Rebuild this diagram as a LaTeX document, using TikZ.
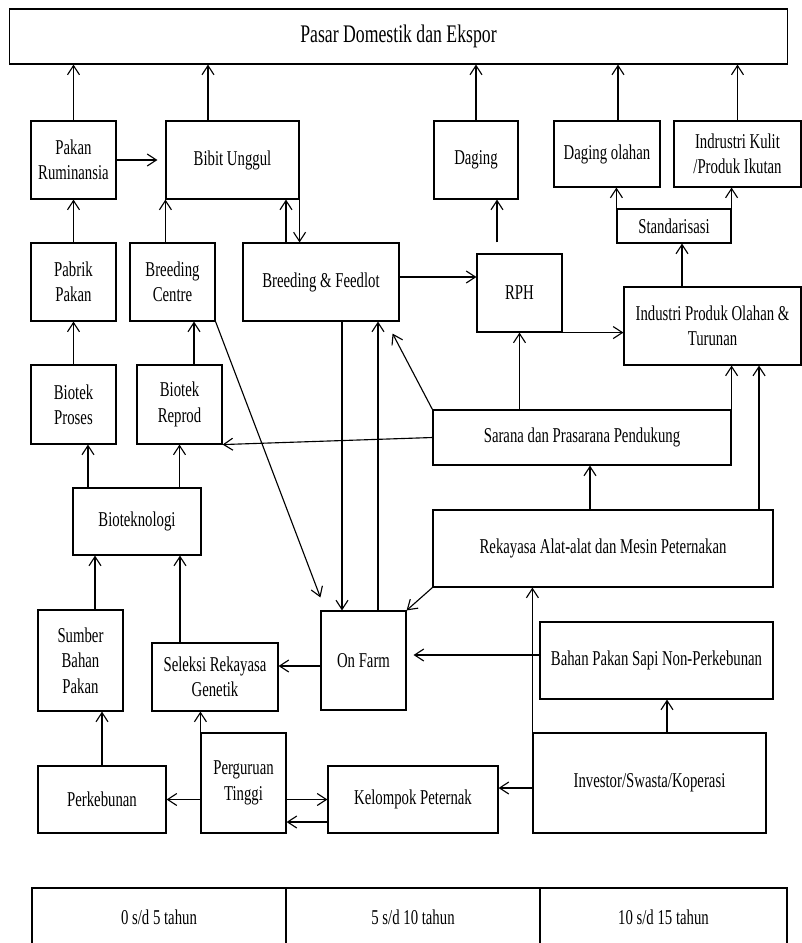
\documentclass[tikz,border=0pt]{standalone}
\usepackage{fontspec}
\setmainfont{Liberation Serif}[FakeStretch=0.7]
\usepackage{tikz}
\usetikzlibrary{arrows.meta}

\begin{document}
\begin{tikzpicture}[x=0.025cm, y=-0.025cm, font=\fontsize{15}{18}\selectfont,
  box/.style={draw, line width=0.8pt, align=center, inner sep=1pt},
  flow/.style={-{Straight Barb[length=2.3mm,width=3mm]}, line width=0.8pt}]
  \useasboundingbox (0,0) rectangle (802,943);

  \node[box, minimum width=19.425cm, minimum height=1.375cm, font=\fontsize{18}{20}\selectfont]
    (pasar) at (398.5,36.5) {Pasar Domestik dan Ekspor};

  \node[box, minimum width=2.125cm, minimum height=1.95cm] (pakanrum) at (73.5,160) {Pakan\\Ruminansia};
  \node[box, minimum width=3.325cm, minimum height=1.95cm] (bibit) at (232.5,160) {Bibit Unggul};
  \node[box, minimum width=2.1cm, minimum height=1.95cm] (daging) at (476,160) {Daging};
  \node[box, minimum width=2.65cm, minimum height=1.65cm] (dagolah) at (607,154) {Daging olahan};
  \node[box, minimum width=3.175cm, minimum height=1.65cm] (kulit) at (737.5,154) {Indrustri Kulit\\/Produk Ikutan};
  \node[box, minimum width=2.85cm, minimum height=0.85cm] (standar) at (674,226) {Standarisasi};

  \node[box, minimum width=2.125cm, minimum height=1.95cm] (pabrik) at (73.5,282) {Pabrik\\Pakan};
  \node[box, minimum width=2.125cm, minimum height=1.95cm] (bcentre) at (172.5,282) {Breeding\\Centre};
  \node[box, minimum width=3.9cm, minimum height=1.95cm] (bfeed) at (321,282) {Breeding \& Feedlot};
  \node[box, minimum width=2.125cm, minimum height=1.95cm] (rph) at (519.5,293) {RPH};
  \node[box, minimum width=4.425cm, minimum height=1.95cm] (industri) at (712.5,326) {Industri Produk Olahan \&\\Turunan};

  \node[box, minimum width=2.125cm, minimum height=1.975cm] (bproses) at (73.5,404.5) {Biotek\\Proses};
  \node[box, minimum width=2.125cm, minimum height=1.975cm] (breprod) at (179.5,404.5) {Biotek\\Reprod};
  \node[box, minimum width=7.45cm, minimum height=1.375cm] (sarana) at (582,437.5) {Sarana dan Prasarana Pendukung};
  \node[box, minimum width=3.2cm, minimum height=1.675cm] (biotek) at (137,521.5) {Bioteknologi};
  \node[box, minimum width=8.5cm, minimum height=1.925cm] (rekayasa) at (603,548.5) {Rekayasa Alat-alat dan Mesin Peternakan};

  \node[box, minimum width=2.125cm, minimum height=2.525cm] (sumber) at (80.5,660.5) {Sumber\\Bahan\\Pakan};
  \node[box, minimum width=3.15cm, minimum height=1.7cm] (seleksi) at (215,677) {Seleksi Rekayasa\\Genetik};
  \node[box, minimum width=2.125cm, minimum height=2.475cm] (onfarm) at (363.5,660.5) {On Farm};
  \node[box, minimum width=5.825cm, minimum height=1.925cm] (bahan) at (656.5,660.5) {Bahan Pakan Sapi Non-Perkebunan};

  \node[box, minimum width=3.2cm, minimum height=1.675cm] (kebun) at (102,799.5) {Perkebunan};
  \node[box, minimum width=2.125cm, minimum height=2.5cm] (pt) at (243.5,783) {Perguruan\\Tinggi};
  \node[box, minimum width=4.25cm, minimum height=1.675cm] (kelompok) at (413,799.5) {Kelompok Peternak};
  \node[box, minimum width=5.825cm, minimum height=2.5cm] (investor) at (649.5,783) {Investor/Swasta/Koperasi};

  \node[box, minimum width=6.35cm, minimum height=1.45cm] (t1) at (159,917) {0 s/d 5 tahun};
  \node[box, minimum width=6.35cm, minimum height=1.45cm] (t2) at (413,917) {5 s/d 10 tahun};
  \node[box, minimum width=6.175cm, minimum height=1.45cm] (t3) at (663.5,917) {10 s/d 15 tahun};

  \draw[flow] (pakanrum) -- (pakanrum |- pasar.south);
  \draw[flow] ([xshift=-0.6125cm]bibit.north) -- ([xshift=-0.6125cm]bibit.north |- pasar.south);
  \draw[flow] (daging) -- (daging |- pasar.south);
  \draw[flow] ([xshift=0.275cm]dagolah.north) -- ([xshift=0.275cm]dagolah.north |- pasar.south);
  \draw[flow] (kulit) -- (kulit |- pasar.south);
  \draw[flow, shorten >=0.2cm] (pakanrum) -- (bibit);
  \draw[flow] (pabrik) -- (pakanrum);
  \draw[flow] (bcentre.north -| bibit.west) -- (bibit.south west);
  \draw[flow] ([xshift=-0.875cm]bfeed.north) -- ([xshift=-0.875cm]bfeed.north |- bibit.south);
  \draw[flow] (bibit.south east) -- (bibit.south east |- bfeed.north);
  \draw[flow] ([yshift=0.125cm]bfeed.east) -- ([yshift=0.125cm]bfeed.east -| rph.west);
  \draw[flow, shorten <=0.275cm] ([xshift=-0.5625cm]rph.north) -- ([xshift=-0.5625cm]rph.north |- daging.south);
  \draw[flow] (standar.north west) -- (standar.north west |- dagolah.south);
  \draw[flow] (standar.north east) -- (standar.north east |- kulit.south);
  \draw[flow] ([xshift=0.2cm]standar.south |- industri.north) -- ([xshift=0.2cm]standar.south);
  \draw[flow] (rph.south east) -- (rph.south east -| industri.west);
  \draw[flow] (bproses) -- (pabrik);
  \draw[flow] ([xshift=0.3625cm]breprod.north) -- ([xshift=0.3625cm]breprod.north |- bcentre.south);
  \draw[flow] ([xshift=0.525cm]bfeed.south) -- ([xshift=0.525cm]bfeed.south |- onfarm.north);
  \draw[flow] ([xshift=0.3625cm]onfarm.north) -- ([xshift=0.3625cm]onfarm.north |- bfeed.south);
  \draw[flow] (bcentre.south east) -- ([yshift=0.325cm]onfarm.north west);
  \draw[flow] (sarana.north west) -- ([xshift=-0.175cm,yshift=-0.3cm]bfeed.south east);
  \draw[flow] (sarana.north -| rph.south) -- (rph.south);
  \draw[flow] (sarana.north east) -- (sarana.north east |- industri.south);
  \draw[flow] (sarana.west) -- (breprod.south east);
  \draw[flow] ([xshift=-0.325cm]rekayasa.north) -- ([xshift=-0.325cm]rekayasa.north |- sarana.south);
  \draw[flow] ([xshift=3.9cm]rekayasa.north) -- ([xshift=3.9cm]rekayasa.north |- industri.south);
  \draw[flow] (rekayasa.south west) -- (onfarm.north east);
  \draw[flow] ([xshift=-1.225cm]biotek.north) -- ([xshift=-1.225cm]biotek.north |- bproses.south);
  \draw[flow] (biotek.north -| breprod.south) -- (breprod.south);
  \draw[flow] ([xshift=0.3625cm]sumber.north) -- ([xshift=0.3625cm]sumber.north |- biotek.south);
  \draw[flow] ([xshift=-0.875cm]seleksi.north) -- ([xshift=-0.875cm]seleksi.north |- biotek.south);
  \draw[flow] ([yshift=-0.1375cm]onfarm.west) -- ([yshift=-0.1375cm]onfarm.west -| seleksi.east);
  \draw[flow, shorten >=0.175cm] ([yshift=0.1375cm]bahan.west) -- ([yshift=0.1375cm]bahan.west -| onfarm.east);
  \draw[flow] (investor.north west) -- (investor.north west |- rekayasa.south);
  \draw[flow] ([xshift=0.4375cm]investor.north) -- ([xshift=0.4375cm]investor.north |- bahan.south);
  \draw[flow] ([yshift=-0.125cm]investor.west) -- ([yshift=-0.125cm]investor.west -| kelompok.east);
  \draw[flow] (pt.north west) -- (pt.north west |- seleksi.south);
  \draw[flow] (kebun) -- (kebun |- sumber.south);
  \draw[flow] (pt.west |- kebun.east) -- (kebun.east);
  \draw[flow] (pt.east |- kelompok.west) -- (kelompok.west);
  \draw[flow] ([yshift=-0.5625cm]kelompok.west) -- ([yshift=-0.5625cm]kelompok.west -| pt.east);
\end{tikzpicture}
\end{document}
